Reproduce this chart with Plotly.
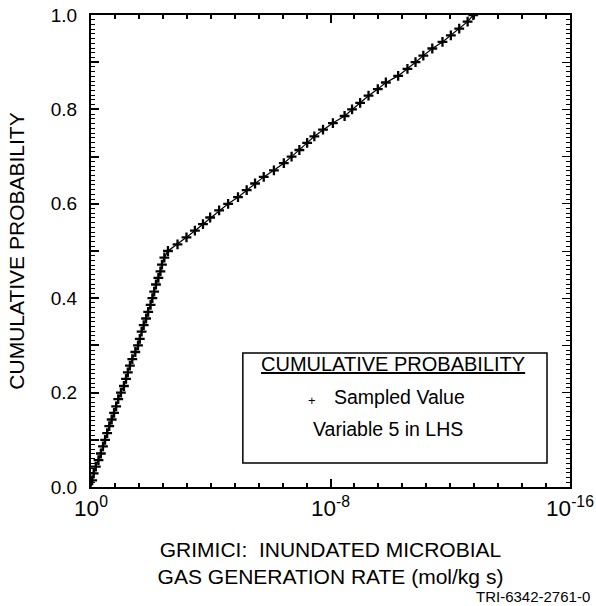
import plotly.graph_objects as go

# cumulative probability of each sampled value (70 LHS samples)
cum_prob = [0.014, 0.029, 0.043, 0.057, 0.071, 0.086, 0.100, 0.114, 0.129, 0.143,
            0.157, 0.171, 0.186, 0.200, 0.214, 0.229, 0.243, 0.257, 0.271, 0.286,
            0.300, 0.314, 0.329, 0.343, 0.357, 0.371, 0.386, 0.400, 0.414, 0.429,
            0.443, 0.457, 0.471, 0.486, 0.500, 0.514, 0.529, 0.543, 0.557, 0.571,
            0.586, 0.600, 0.614, 0.629, 0.643, 0.657, 0.671, 0.686, 0.700, 0.714,
            0.729, 0.743, 0.757, 0.771, 0.786, 0.800, 0.814, 0.829, 0.843, 0.857,
            0.871, 0.886, 0.900, 0.914, 0.929, 0.943, 0.957, 0.971, 0.986, 1.000]

# log10 of sampled value (mol/kg s)
log_rate = [-0.04, -0.09, -0.16, -0.25, -0.33, -0.40, -0.47, -0.54, -0.61, -0.69,
            -0.77, -0.84, -0.91, -1.00, -1.10, -1.17, -1.23, -1.30, -1.38, -1.48,
            -1.57, -1.63, -1.69, -1.76, -1.84, -1.91, -1.99, -2.05, -2.11, -2.17,
            -2.25, -2.32, -2.37, -2.45, -2.57, -2.89, -3.19, -3.47, -3.74, -3.98,
            -4.28, -4.58, -4.91, -5.20, -5.48, -5.77, -6.11, -6.44, -6.70, -6.96,
            -7.22, -7.46, -7.75, -8.08, -8.47, -8.72, -8.99, -9.27, -9.58, -9.85,
            -10.26, -10.57, -10.84, -11.10, -11.40, -11.74, -12.02, -12.30, -12.58, -12.77]

cdf_start_rate = 1.0
cdf_start_prob = 0.0

x_label_alias = {"1": "10<sup>0</sup>",
                 "10<sup>\u22128</sup>": "10<sup>-8</sup>",
                 "10<sup>\u221216</sup>": "10<sup>-16</sup>"}
y_label_alias = {"0.1": "", "0.3": "", "0.5": "", "0.7": "", "0.9": ""}

rate = [10 ** v for v in log_rate]
FONT = "Liberation Sans, Arial, Helvetica, sans-serif"
X_RANGE = [0, -16]
Y_RANGE = [0, 1]

fig = go.Figure()
fig.add_trace(go.Scatter(
    x=[cdf_start_rate] + rate, y=[cdf_start_prob] + cum_prob,
    mode="lines", line=dict(color="black", width=1.2),
    showlegend=False, hoverinfo="skip"))
fig.add_trace(go.Scatter(
    x=rate, y=cum_prob, mode="markers",
    marker=dict(symbol="cross-thin", size=7, color="black",
                line=dict(color="black", width=2.3)),
    showlegend=False, name="Sampled Value"))
# empty traces so that the extra tick axes are built
for k in (2, 3, 4):
    fig.add_trace(go.Scatter(x=[], y=[], xaxis=f"x{k}", yaxis=f"y{k}",
                             showlegend=False, hoverinfo="skip"))


def x_tick_axis(side, dtick, length):
    return dict(type="log", range=X_RANGE, automargin=False, overlaying="x",
                anchor="y", side=side, tickmode="linear", tick0=0, dtick=dtick,
                ticks="inside", ticklen=length, tickwidth=1.5, tickcolor="black",
                showticklabels=False, showline=False, showgrid=False, zeroline=False)


def y_tick_axis(side, dtick, length):
    return dict(range=Y_RANGE, automargin=False, overlaying="y",
                anchor="x", side=side, tickmode="linear", tick0=0, dtick=dtick,
                ticks="inside", ticklen=length, tickwidth=1.2, tickcolor="black",
                showticklabels=False, showline=False, showgrid=False, zeroline=False)


fig.update_layout(
    xaxis=dict(type="log", range=X_RANGE, automargin=False,
               tickmode="linear", tick0=0, dtick=8, exponentformat="power",
               labelalias=x_label_alias,
               ticks="inside", ticklen=8, tickwidth=1.5, tickcolor="black",
               showline=True, linecolor="black", linewidth=2, mirror=True,
               showgrid=False, zeroline=False,
               tickfont=dict(family=FONT, size=18, color="black"),
               ticklabelstandoff=1,
               title=dict(text="GRIMICI:  INUNDATED MICROBIAL<br>GAS GENERATION RATE (mol/kg s)",
                          font=dict(family=FONT, size=21, color="black"), standoff=22)),
    yaxis=dict(range=Y_RANGE, automargin=False,
               tickmode="linear", tick0=0, dtick=0.1, tickformat=".1f",
               labelalias=y_label_alias,
               ticks="inside", ticklen=8, tickwidth=1.5, tickcolor="black",
               showline=True, linecolor="black", linewidth=2, mirror=True,
               showgrid=False, zeroline=False,
               tickfont=dict(family=FONT, size=19, color="black"),
               ticklabelstandoff=8,
               title=dict(text="CUMULATIVE PROBABILITY",
                          font=dict(family=FONT, size=21, color="black"), standoff=20)),
    xaxis2=x_tick_axis("top", 8, 8),
    xaxis3=x_tick_axis("bottom", 0.8, 4),
    xaxis4=x_tick_axis("top", 0.8, 4),
    yaxis2=y_tick_axis("right", 0.1, 8),
    yaxis3=y_tick_axis("left", 0.01, 4),
    yaxis4=y_tick_axis("right", 0.01, 4),
)

# legend-like box
fig.add_shape(type="rect", xref="paper", yref="paper",
              x0=0.317, x1=0.952, y0=0.051, y1=0.284,
              line=dict(color="black", width=1.5), fillcolor="white", layer="above")
ann_font = dict(family=FONT, size=19.5, color="black")
fig.add_annotation(xref="paper", yref="paper", x=0.630, y=0.233,
                   text="<u>CUMULATIVE PROBABILITY</u>", showarrow=False,
                   font=dict(family=FONT, size=20, color="black"))
fig.add_annotation(xref="paper", yref="paper", x=0.461, y=0.163,
                   text="+", showarrow=False,
                   font=dict(family=FONT, size=13, color="black"))
fig.add_annotation(xref="paper", yref="paper", x=0.645, y=0.163,
                   text="Sampled Value", showarrow=False, font=ann_font)
fig.add_annotation(xref="paper", yref="paper", x=0.620, y=0.095,
                   text="Variable 5 in LHS", showarrow=False, font=ann_font)
fig.add_annotation(xref="paper", yref="paper", x=1.046, y=-0.231,
                   xanchor="right", yanchor="middle",
                   text="TRI-6342-2761-0", showarrow=False,
                   font=dict(family=FONT, size=15, color="black"))

fig.update_layout(
    width=596, height=606,
    margin=dict(l=91, r=26, t=15, b=119),
    paper_bgcolor="white", plot_bgcolor="white",
    font=dict(family=FONT, color="black"),
)

fig.write_html("out.html", config={"displayModeBar": False},
               post_script="document.body.style.margin='0px';")
